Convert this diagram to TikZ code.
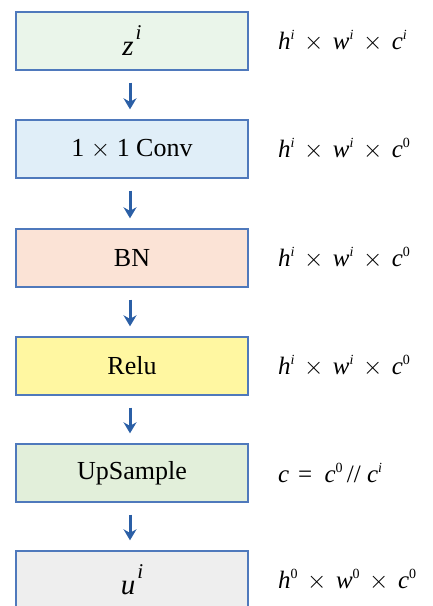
\documentclass[tikz,border=0pt]{standalone}
\usepackage{fontspec}
\setmainfont{Liberation Serif}
\usetikzlibrary{arrows.meta,positioning}
\definecolor{edgeblue}{HTML}{4F79BC}
\definecolor{arrowblue}{HTML}{2B5FA6}
\definecolor{fillmint}{HTML}{EAF5EA}
\definecolor{fillsky}{HTML}{E0EEF8}
\definecolor{fillpeach}{HTML}{FBE3D6}
\definecolor{fillyellow}{HTML}{FFF7A1}
\definecolor{fillgreen}{HTML}{E2EFDA}
\definecolor{fillgray}{HTML}{EEEEEE}
% italic symbol with a small superscript
\newcommand\idx[2]{\textit{#1}\raisebox{0.40em}{\fontsize{14}{15}\selectfont #2}}
\newcommand\tms{\hspace{0.38em}\ensuremath{\times}\hspace{0.38em}}
\tikzset{
  layer/.style={draw=edgeblue, line width=1.4pt, minimum width=232pt, minimum height=58pt,
    inner sep=0pt, font=\fontsize{26}{28}\selectfont},
  shape label/.style={anchor=west, inner sep=0pt, font=\fontsize{25}{28}\selectfont},
  flow/.style={draw=arrowblue, line width=3pt, -{Stealth[length=11pt,width=13pt]}}
}
\begin{document}
\begin{tikzpicture}[x=1pt,y=-1pt]
\useasboundingbox (0,0) rectangle (432,606);
% layer boxes, top to bottom
\node[layer, fill=fillmint]   (b1) at (132,41)  {\fontsize{29}{30}\selectfont\textit{z}\hspace{2pt}\raisebox{0.55em}{\fontsize{21}{22}\selectfont\textit{i}}};
\node[layer, fill=fillsky]    (b2) at (132,149) {1 $\times$ 1 Conv};
\node[layer, fill=fillpeach]  (b3) at (132,258) {BN};
\node[layer, fill=fillyellow] (b4) at (132,366) {Relu};
\node[layer, fill=fillgreen]  (b5) at (132,473) {UpSample};
\node[layer, fill=fillgray]   (b6) at (132,580) {\fontsize{29}{30}\selectfont\textit{u}\hspace{2pt}\raisebox{0.55em}{\fontsize{21}{22}\selectfont\textit{i}}};
% tensor shapes
\node[shape label] (l1) at (278,41)  {\idx{h}{\textit{i}}\tms\idx{w}{\textit{i}}\tms\idx{c}{\textit{i}}};
\node[shape label] (l2) at (278,149) {\idx{h}{\textit{i}}\tms\idx{w}{\textit{i}}\tms\idx{c}{0}};
\node[shape label] (l3) at (278,258) {\idx{h}{\textit{i}}\tms\idx{w}{\textit{i}}\tms\idx{c}{0}};
\node[shape label] (l4) at (278,366) {\idx{h}{\textit{i}}\tms\idx{w}{\textit{i}}\tms\idx{c}{0}};
\node[shape label] (l5) at (278,473) {\textit{c}\hspace{0.35em}=\hspace{0.5em}\idx{c}{0}\,//\hspace{0.25em}\idx{c}{\textit{i}}};
\node[shape label] (l6) at (278,580) {\idx{h}{0}\tms\idx{w}{0}\tms\idx{c}{0}};
% connectors
\foreach \a/\b in {b1/b2,b2/b3,b3/b4,b4/b5,b5/b6}{
  \draw[flow] ([yshift=-12pt]\a.south -| 130,0) -- ([yshift=10pt]\b.north -| 130,0);
}
\end{tikzpicture}
\end{document}
